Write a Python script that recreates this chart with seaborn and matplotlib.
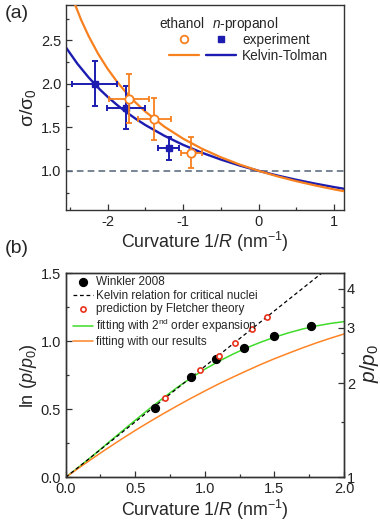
import matplotlib
matplotlib.use("Agg")
import matplotlib.pyplot as plt
import numpy as np
import seaborn as sns
from matplotlib.lines import Line2D
from matplotlib.ticker import MultipleLocator, FixedLocator, FormatStrFormatter, NullFormatter

# ---- panel (a): surface tension ratio vs curvature ----
blue_curve_x = [-2.55, -2.4, -2.25, -2.1, -2.0, -1.875, -1.75, -1.625, -1.5, -1.25, -1.0,
                -0.75, -0.5, -0.25, 0.0, 0.25, 0.5, 0.75, 1.0, 1.13]
blue_curve_y = [2.418, 2.232, 2.073, 1.934, 1.852, 1.758, 1.674, 1.597, 1.527, 1.404, 1.299,
                1.208, 1.130, 1.061, 1.0, 0.946, 0.897, 0.853, 0.813, 0.794]
orange_curve_x = [-2.5, -2.45, -2.35, -2.25, -2.125, -2.0, -1.875, -1.75, -1.625, -1.5, -1.25, -1.0,
                  -0.75, -0.5, -0.25, 0.0, 0.25, 0.5, 0.75, 1.0, 1.13]
orange_curve_y = [3.08, 2.954, 2.736, 2.548, 2.346, 2.174, 2.025, 1.896, 1.782, 1.681, 1.509, 1.370,
                  1.254, 1.156, 1.072, 1.0, 0.937, 0.881, 0.832, 0.787, 0.766]

propanol_x = [-2.17, -1.76, -1.19]
propanol_y = [2.0, 1.725, 1.26]
propanol_xerr = [0.30, 0.25, 0.14]
propanol_yerr = [0.26, 0.245, 0.13]

ethanol_x = [-1.71, -1.38, -0.89]
ethanol_y = [1.83, 1.60, 1.21]
ethanol_xerr = [0.265, 0.22, 0.14]
ethanol_yerr = [0.28, 0.24, 0.18]

# ---- panel (b): supersaturation vs curvature ----
winkler_x = [0.64, 0.90, 1.08, 1.28, 1.50, 1.76]
winkler_y = [0.51, 0.74, 0.87, 0.95, 1.04, 1.115]
fletcher_x = [0.713, 0.965, 1.10, 1.22, 1.336, 1.446]
fletcher_y = [0.585, 0.79, 0.894, 0.99, 1.09, 1.18]
kelvin_x = [0.0, 2.0]
kelvin_y = [0.0, 1.632]
fit_x = [0.0, 0.1, 0.2, 0.3, 0.4, 0.5, 0.6, 0.7, 0.8, 0.9, 1.0,
         1.1, 1.2, 1.3, 1.4, 1.5, 1.6, 1.7, 1.8, 1.9, 2.0]
green_fit_y = [0.0, 0.08, 0.163, 0.25, 0.335, 0.42, 0.503, 0.583, 0.66, 0.73, 0.795,
               0.853, 0.905, 0.952, 0.993, 1.03, 1.062, 1.09, 1.113, 1.131, 1.145]
orange_fit_y = [0.0, 0.073, 0.144, 0.213, 0.280, 0.345, 0.407, 0.467, 0.525, 0.581, 0.635,
                0.687, 0.736, 0.783, 0.829, 0.872, 0.912, 0.951, 0.988, 1.022, 1.054]
right_ticks = [1, 2, 3, 4]
right_minor = [1.5, 2.5, 3.5]

ORANGE = "#f7801f"
BLUE = "#1c1cb0"
GRAY_DASH = "#5f7082"
GREEN = "#3fdc2a"
ORANGE_B = "#ff8426"
RED = "#e8321c"
SPINE = "#333333"
TICK_FS = 10.5

sns.set_theme(style="ticks")
plt.rcParams["font.family"] = ["Liberation Sans", "DejaVu Sans"]
plt.rcParams["mathtext.fontset"] = "custom"
plt.rcParams["mathtext.rm"] = "Liberation Sans"
plt.rcParams["mathtext.it"] = "Liberation Sans:italic"
plt.rcParams["axes.unicode_minus"] = False


def style_axes(ax):
    for s in ax.spines.values():
        s.set_color(SPINE)
        s.set_linewidth(1.0)
    ax.tick_params(which="both", direction="in", colors=SPINE, labelcolor="#222222",
                   labelsize=TICK_FS, top=False, right=False)
    ax.tick_params(which="major", length=4.5, width=0.9)
    ax.tick_params(which="minor", length=2.5, width=0.9)


fig = plt.figure(figsize=(3.8, 5.22), dpi=100)
ax_a = fig.add_axes([0.1737, 0.5977, 0.7316, 0.3933])
ax_b = fig.add_axes([0.1729, 0.0856, 0.7324, 0.3908])

# ---------------- (a) ----------------
ax_a.axhline(1.0, color=GRAY_DASH, linestyle=(0, (4, 2.5)), linewidth=1.2, zorder=1)
sns.lineplot(x=blue_curve_x, y=blue_curve_y, ax=ax_a, color=BLUE, linewidth=1.7, sort=False, zorder=2)
sns.lineplot(x=orange_curve_x, y=orange_curve_y, ax=ax_a, color=ORANGE, linewidth=1.6, sort=False, zorder=3)
ax_a.errorbar(propanol_x, propanol_y, xerr=propanol_xerr, yerr=propanol_yerr, fmt="s",
              color=BLUE, ms=5, capsize=2.5, elinewidth=1.4, capthick=1.4, zorder=4)
ax_a.errorbar(ethanol_x, ethanol_y, xerr=ethanol_xerr, yerr=ethanol_yerr, fmt="o",
              color=ORANGE, mfc="white", mec=ORANGE, mew=1.3, ms=6, capsize=2.5,
              elinewidth=1.3, capthick=1.3, zorder=5)
ax_a.set_xlim(-2.55, 1.13)
ax_a.set_ylim(0.55, 2.91)
ax_a.xaxis.set_major_locator(MultipleLocator(1))
ax_a.xaxis.set_minor_locator(MultipleLocator(0.5))
ax_a.yaxis.set_major_locator(MultipleLocator(0.5))
ax_a.yaxis.set_minor_locator(MultipleLocator(0.25))
ax_a.yaxis.set_major_formatter(FormatStrFormatter("%.1f"))
style_axes(ax_a)
ax_a.set_xlabel(r"Curvature $\mathit{1/R}$ (nm$^{-1}$)", fontsize=12.8, labelpad=1)
ax_a.set_ylabel(r"σ/σ$_0$", fontsize=14, labelpad=2)

handles = [Line2D([], [], marker="o", ls="none", mfc="white", mec=ORANGE, mew=1.3, ms=5.5),
           Line2D([], [], color=ORANGE, lw=1.6),
           Line2D([], [], marker="s", ls="none", color=BLUE, ms=4.5),
           Line2D([], [], color=BLUE, lw=1.7)]
ax_a.legend(handles, ["", "", "experiment", "Kelvin-Tolman"], ncol=2, frameon=False,
            loc="upper left", bbox_to_anchor=(0.37, 0.862), fontsize=9.8,
            handlelength=2.2, handletextpad=0.45, columnspacing=0.1,
            borderpad=0, borderaxespad=0, labelspacing=0.14)
ax_a.text(0.416, 0.906, "ethanol", transform=ax_a.transAxes, ha="center", va="center", fontsize=9.8)
ax_a.text(0.646, 0.906, r"$\mathit{n}$-propanol", transform=ax_a.transAxes, ha="center", va="center",
          fontsize=9.8)
fig.text(0.045, 0.975, "(a)", fontsize=14, ha="center", va="center")

# ---------------- (b) ----------------
sns.lineplot(x=kelvin_x, y=kelvin_y, ax=ax_b, color="black", linewidth=0.9,
             linestyle=(0, (3, 2.2)), sort=False, zorder=3,
             label="Kelvin relation for critical nuclei")
sns.lineplot(x=fit_x, y=green_fit_y, ax=ax_b, color=GREEN, linewidth=1.1, sort=False, zorder=2,
             label=r"fitting with 2$^{\mathrm{nd}}$ order expansion")
sns.lineplot(x=fit_x, y=orange_fit_y, ax=ax_b, color=ORANGE_B, linewidth=1.1, sort=False, zorder=2,
             label="fitting with our results")
ax_b.scatter(winkler_x, winkler_y, s=32, color="black", zorder=4, label="Winkler 2008")
ax_b.scatter(fletcher_x, fletcher_y, s=14, facecolor="white", edgecolor=RED, linewidth=1.2,
             zorder=5, label="prediction by Fletcher theory")
ax_b.set_xlim(0, 2.0)
ax_b.set_ylim(0, 1.5)
ax_b.xaxis.set_major_locator(MultipleLocator(0.5))
ax_b.xaxis.set_minor_locator(MultipleLocator(0.25))
ax_b.yaxis.set_major_locator(MultipleLocator(0.5))
ax_b.yaxis.set_minor_locator(MultipleLocator(0.25))
ax_b.xaxis.set_major_formatter(FormatStrFormatter("%.1f"))
ax_b.yaxis.set_major_formatter(FormatStrFormatter("%.1f"))
style_axes(ax_b)
ax_b.set_xlabel(r"Curvature $\mathit{1/R}$ (nm$^{-1}$)", fontsize=12.8, labelpad=1)
ax_b.set_ylabel(r"ln ($p$/$p_\mathrm{0}$)", fontsize=13, labelpad=1)

hb, lb = ax_b.get_legend_handles_labels()
order = [lb.index("Winkler 2008"), lb.index("Kelvin relation for critical nuclei"),
         lb.index("prediction by Fletcher theory"),
         lb.index(r"fitting with 2$^{\mathrm{nd}}$ order expansion"),
         lb.index("fitting with our results")]
ax_b.legend([hb[i] for i in order], [lb[i] for i in order], loc="upper left",
            bbox_to_anchor=(0.026, 0.985), frameon=False, fontsize=8.5,
            handlelength=1.7, handletextpad=0.25, labelspacing=0.12,
            borderpad=0, borderaxespad=0)

ax_r = ax_b.twinx()
ax_r.set_yscale("log")
ax_r.set_ylim(1.0, float(np.exp(1.5)))
ax_r.yaxis.set_major_locator(FixedLocator(right_ticks))
ax_r.yaxis.set_minor_locator(FixedLocator(right_minor))
ax_r.yaxis.set_major_formatter(FormatStrFormatter("%d"))
ax_r.yaxis.set_minor_formatter(NullFormatter())
for s in ax_r.spines.values():
    s.set_color(SPINE)
    s.set_linewidth(1.0)
ax_r.tick_params(which="both", direction="in", colors=SPINE, labelcolor="#222222", labelsize=TICK_FS,
                 right=True, left=False, pad=2)
ax_r.tick_params(which="major", length=4.5, width=0.9)
ax_r.tick_params(which="minor", length=2.5, width=0.9)
ax_r.set_ylabel(r"$p$/$p_\mathrm{0}$", fontsize=15, labelpad=2)
ax_r.yaxis.set_label_coords(1.05, 0.56)
fig.text(0.045, 0.523, "(b)", fontsize=14, ha="center", va="center")

fig.savefig("out.png", dpi=100)
